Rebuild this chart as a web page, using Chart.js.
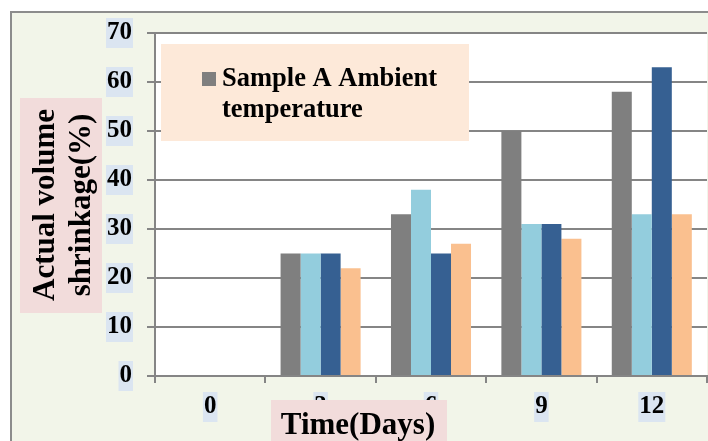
<!DOCTYPE html>
<html>
<head>
<meta charset="utf-8">
<script src="https://cdn.jsdelivr.net/npm/chart.js@4.4.1/dist/chart.umd.min.js"></script>
<style>
  html, body { margin: 0; padding: 0; background: #fff; }
  #wrap { width: 708px; height: 441px; }
</style>
</head>
<body>
<div id="wrap"><canvas id="myChart" width="708" height="441"></canvas></div>
<script>
// data
const days = ['0', '3', '6', '9', '12'];
const seriesNames = ['Sample A Ambient temperature', 'Series 2', 'Series 3', 'Series 4'];
const sampleA = [0, 25, 33, 50, 58];
const series2 = [0, 25, 38, 31, 33];
const series3 = [0, 25, 25, 31, 63];
const series4 = [0, 22, 27, 28, 33];
const yMin = 0;
const yMax = 70;
const yStep = 10;

const colors = ['#7f7f7f', '#93cddd', '#366092', '#fac08f'];
const serif = '"Liberation Serif", "Times New Roman", serif';
const gridGray = '#858585';

const drawBox = (ctx, x, y, w, h, fill) => {
    ctx.fillStyle = fill;
    ctx.fillRect(x, y, w, h);
};

const decorations = {
    id: 'decorations',
    beforeDraw(chart) {
        const { ctx, chartArea } = chart;
        ctx.save();
        drawBox(ctx, 0, 0, chart.width, chart.height, '#ffffff');
        drawBox(ctx, 10, 11, chart.width, chart.height, '#f2f5e9');
        ctx.strokeStyle = '#8c8c8c';
        ctx.lineWidth = 2;
        ctx.strokeRect(11, 12, chart.width + 10, chart.height + 10);
        drawBox(ctx, chartArea.left, chartArea.top, chartArea.width, chartArea.height, '#ffffff');
        ctx.restore();
    },
    afterDraw(chart) {
        const { ctx } = chart;
        ctx.save();

        // legend (first series only, as in the picture)
        drawBox(ctx, 161, 44, 308, 97, '#fde9d9');
        const ds = chart.data.datasets[0];
        drawBox(ctx, 202, 72, 14, 14, ds.backgroundColor);
        ctx.fillStyle = '#000';
        ctx.font = 'bold 26.5px ' + serif;
        ctx.textAlign = 'left';
        ctx.textBaseline = 'alphabetic';
        ctx.fillText('Sample A Ambient', 222, 86);
        ctx.fillText('temperature', 222, 117);

        // y title
        drawBox(ctx, 20, 98, 82, 215, '#f2dcdb');
        ctx.save();
        ctx.translate(61, 205);
        ctx.rotate(-Math.PI / 2);
        ctx.textAlign = 'center';
        ctx.font = 'bold 31px ' + serif;
        ctx.fillStyle = '#000';
        ctx.fillText('Actual volume', 0, -7);
        ctx.fillText('shrinkage(%)', 0, 29);
        ctx.restore();

        // x title
        drawBox(ctx, 271, 400, 176, 45, '#f2dcdb');
        ctx.textAlign = 'center';
        ctx.font = 'bold 31px ' + serif;
        ctx.fillStyle = '#000';
        ctx.fillText('Time(Days)', 358, 434);

        ctx.restore();
    }
};

const ctx = document.getElementById('myChart').getContext('2d');
new Chart(ctx, {
    type: 'bar',
    data: {
        labels: days,
        datasets: [sampleA, series2, series3, series4].map((values, i) => ({
            label: seriesNames[i],
            data: values,
            backgroundColor: colors[i],
            borderWidth: 0,
            barPercentage: 1,
            categoryPercentage: 0.725
        }))
    },
    options: {
        responsive: false,
        animation: false,
        devicePixelRatio: 1,
        layout: { padding: { top: 33, right: 1, left: 0, bottom: 0 } },
        plugins: {
            legend: { display: false },
            tooltip: { enabled: false }
        },
        scales: {
            x: {
                afterFit: (scale) => { scale.height = 65; },
                grid: {
                    offset: true,
                    drawOnChartArea: false,
                    drawTicks: true,
                    tickLength: 7,
                    color: gridGray,
                    lineWidth: 2
                },
                border: { color: gridGray, width: 2 },
                ticks: {
                    color: '#000',
                    font: { family: serif, size: 25, weight: 'bold' },
                    padding: 9,
                    showLabelBackdrop: true,
                    backdropColor: '#dbe5f1',
                    backdropPadding: { x: 1, y: 0 }
                }
            },
            y: {
                min: yMin,
                max: yMax,
                afterFit: (scale) => { scale.width = 155; },
                grid: {
                    color: gridGray,
                    lineWidth: 2,
                    tickLength: 8
                },
                border: { color: gridGray, width: 2 },
                ticks: {
                    stepSize: yStep,
                    color: '#000',
                    font: { family: serif, size: 25, weight: 'bold' },
                    padding: 15,
                    showLabelBackdrop: true,
                    backdropColor: '#dbe5f1',
                    backdropPadding: { x: 1, y: 0 }
                }
            }
        }
    },
    plugins: [decorations]
});
</script>
</body>
</html>
